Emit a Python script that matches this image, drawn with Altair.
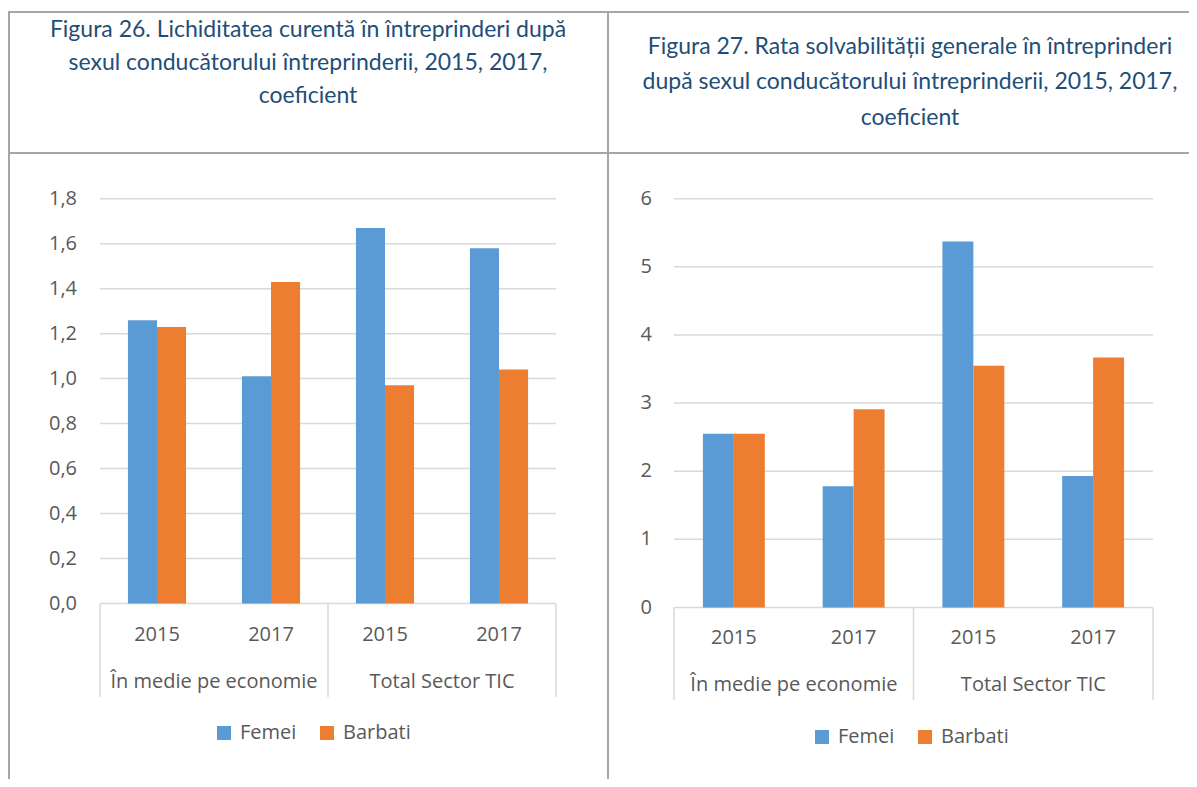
import altair as alt
import pandas as pd

# ---------------- data ----------------
groups = ["În medie pe economie", "În medie pe economie", "Total Sector TIC", "Total Sector TIC"]
years = ["2015", "2017", "2015", "2017"]
series = ["Femei", "Barbati"]
colors = ["#5B9BD5", "#ED7D31"]

femei_26 = [1.26, 1.01, 1.67, 1.58]
barbati_26 = [1.23, 1.43, 0.97, 1.04]
femei_27 = [2.55, 1.78, 5.37, 1.93]
barbati_27 = [2.55, 2.91, 3.55, 3.67]

ticks_26 = [0.0, 0.2, 0.4, 0.6, 0.8, 1.0, 1.2, 1.4, 1.6, 1.8]
tick_labels_26 = ["0,0", "0,2", "0,4", "0,6", "0,8", "1,0", "1,2", "1,4", "1,6", "1,8"]
ticks_27 = [0, 1, 2, 3, 4, 5, 6]
tick_labels_27 = ["0", "1", "2", "3", "4", "5", "6"]

title_26 = ["Figura 26. Lichiditatea curentă în întreprinderi după",
            "sexul conducătorului întreprinderii, 2015, 2017,",
            "coeficient"]
title_27 = ["Figura 27. Rata solvabilității generale în întreprinderi",
            "după sexul conducătorului întreprinderii, 2015, 2017,",
            "coeficient"]

FONT = "Open Sans"
TXT = "#595959"
GRID = "#D9D9D9"
BORDER = "#A6A6A6"
TITLE_COLOR = "#1F4E79"
TITLE_FONT = "Lato"

cats = [str(i) for i in range(len(years))]
dummy = pd.DataFrame({"d": [0]})


def panel(femei, barbati, ticks, tick_labels, ymax, xr, yr, pad,
          label_x, year_y, group_y, group_dx, sep_y, legend_xy):
    rows = []
    for i in range(len(years)):
        rows.append({"cat": cats[i], "series": "Femei", "value": femei[i]})
        rows.append({"cat": cats[i], "series": "Barbati", "value": barbati[i]})
    df = pd.DataFrame(rows)
    xscale = alt.Scale(domain=cats, range=xr, paddingInner=pad, paddingOuter=pad / 2)
    yscale = alt.Scale(domain=[0, ymax], range=yr, nice=False, zero=True)

    tick_df = pd.DataFrame({"v": ticks, "lab": tick_labels})
    grid = alt.Chart(tick_df).mark_rule(color=GRID, strokeWidth=1.5).encode(
        y=alt.Y("v:Q", scale=yscale, axis=None),
        x=alt.value(xr[0]), x2=alt.value(xr[1]))
    tlabels = alt.Chart(tick_df).mark_text(
        align="right", baseline="middle", font=FONT, fontSize=20, color=TXT
    ).encode(y=alt.Y("v:Q", scale=yscale, axis=None), x=alt.value(label_x), text="lab:N")

    bars = alt.Chart(df).mark_bar().encode(
        x=alt.X("cat:N", scale=xscale, axis=None),
        xOffset=alt.XOffset("series:N", scale=alt.Scale(domain=series)),
        y=alt.Y("value:Q", scale=yscale, axis=None),
        color=alt.Color("series:N", scale=alt.Scale(domain=series, range=colors),
                        legend=alt.Legend(orient="none", legendX=legend_xy[0], legendY=legend_xy[1],
                                          direction="horizontal", title=None,
                                          symbolType="square", symbolSize=196,
                                          symbolStrokeWidth=0, labelFont=FONT,
                                          labelFontSize=20, labelColor=TXT,
                                          labelOffset=6, columnPadding=20)),
    )

    year_df = pd.DataFrame({"cat": cats, "year": years})
    ylab = alt.Chart(year_df).mark_text(
        baseline="middle", font=FONT, fontSize=20, color=TXT
    ).encode(x=alt.X("cat:N", scale=xscale, axis=None), y=alt.value(year_y), text="year:N")

    grp_df = pd.DataFrame({"cat": [cats[0], cats[2]], "grp": [groups[0], groups[2]]})
    glab = alt.Chart(grp_df).mark_text(
        baseline="middle", font=FONT, fontSize=20, color=TXT, dx=group_dx
    ).encode(x=alt.X("cat:N", scale=xscale, axis=None), y=alt.value(group_y), text="grp:N")

    mid = (xr[0] + xr[1]) / 2
    seps = [alt.Chart(dummy).mark_rule(color=GRID, strokeWidth=1.5).encode(
        x=alt.value(sx), y=alt.value(sep_y[0]), y2=alt.value(sep_y[1]))
        for sx in (xr[0], mid, xr[1])]

    return alt.layer(grid, tlabels, bars, ylab, glab, *seps)


p1 = panel(femei_26, barbati_26, ticks_26, tick_labels_26, 1.8,
           xr=[92, 548], yr=[595.5, 190.7], pad=0.49,
           label_x=69, year_y=627, group_y=674, group_dx=57,
           sep_y=[595.5, 689], legend_xy=[206, 715])
p2 = panel(femei_27, barbati_27, ticks_27, tick_labels_27, 6,
           xr=[666, 1145], yr=[599.5, 190.7], pad=0.483,
           label_x=644, year_y=630, group_y=677, group_dx=60,
           sep_y=[599.5, 692], legend_xy=[804, 719])

# ------------- table borders and titles -------------
deco = []
deco.append(alt.Chart(dummy).mark_rule(color=BORDER, strokeWidth=2).encode(
    x=alt.value(0), x2=alt.value(1181), y=alt.value(4)))
deco.append(alt.Chart(dummy).mark_rule(color=BORDER, strokeWidth=2).encode(
    x=alt.value(0), x2=alt.value(1181), y=alt.value(145)))
for vx in (1, 600):
    deco.append(alt.Chart(dummy).mark_rule(color=BORDER, strokeWidth=2).encode(
        x=alt.value(vx), y=alt.value(4), y2=alt.value(771)))

for lines, cx, ys in ((title_26, 300, [22, 55, 88]), (title_27, 902, [39, 74, 110])):
    for line, ty in zip(lines, ys):
        deco.append(alt.Chart(pd.DataFrame({"t": [line]})).mark_text(
            font=TITLE_FONT, fontSize=23, color=TITLE_COLOR, baseline="middle", align="center"
        ).encode(x=alt.value(cx), y=alt.value(ty), text="t:N"))

chart = alt.layer(p1, p2, *deco).resolve_scale(
    x="independent", y="independent", color="independent", xOffset="independent"
).properties(
    width=1181, height=771, autosize=alt.AutoSizeParams(type="none"), padding=0,
    background="white"
).configure_view(stroke=None)

chart.save("out.html", embed_options={"renderer": "svg", "actions": False})
